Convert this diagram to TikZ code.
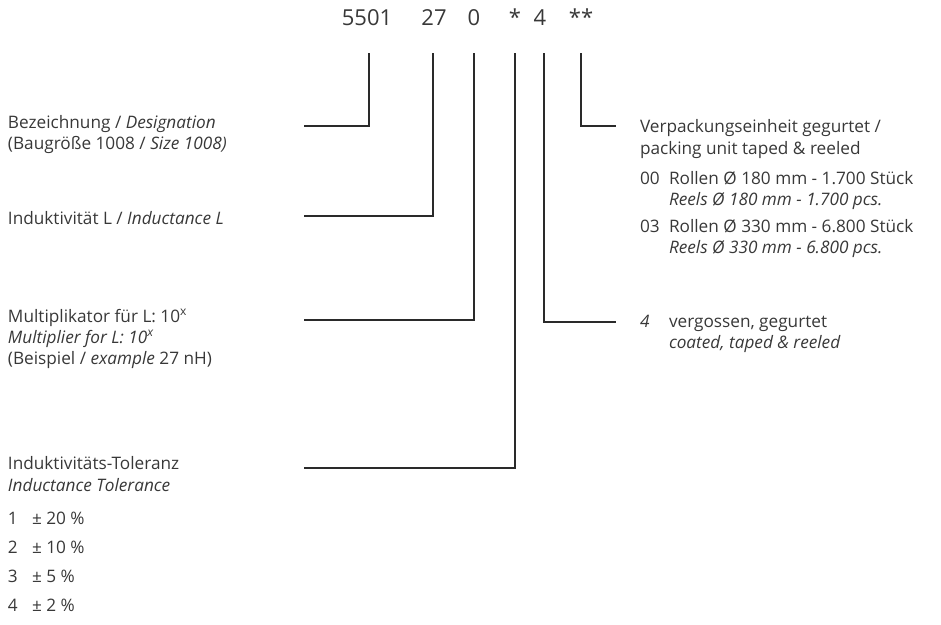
\documentclass[tikz,border=0pt]{standalone}
\usepackage{fontspec}
\setmainfont{Open Sans}
\definecolor{ink}{HTML}{383838}
\definecolor{wire}{HTML}{2A2A2A}
\begin{document}
\begin{tikzpicture}[x=1pt,y=-1pt,
  every node/.style={inner sep=0pt, outer sep=0pt, text=ink},
  lbl/.style={anchor=base west, font=\fontsize{17.2}{21}\selectfont},
  code/.style={anchor=base, font=\fontsize{22}{26}\selectfont},
  conn/.style={draw=wire, line width=2pt, line join=miter}]
\useasboundingbox (0,0) rectangle (941,624);

% code digits
\node[code] (c1) at (367,25) {5501};
\node[code] (c2) at (434,25) {27};
\node[code] (c3) at (474,25) {0};
\node[code] (c4) at (515,25) {*};
\node[code] (c5) at (540,25) {4};
\node[code] (c6) at (581,25) {**};

% left labels
\node[lbl] (bez1) at (8,128) {Bezeichnung / \textit{Designation}};
\node[lbl] (bez2) at (8,149) {(Baugröße 1008 / \textit{Size 1008)}};
\node[lbl] (ind)  at (8,224) {Induktivität L / \textit{Inductance L}};
\node[lbl] (mul1) at (8,322) {Multiplikator für L: 10\textsuperscript{x}};
\node[lbl] (mul2) at (8,343) {\textit{Multiplier for L: 10\textsuperscript{x}}};
\node[lbl] (mul3) at (8,364) {(Beispiel / \textit{example} 27 nH)};
\node[lbl] (tol1) at (8,469) {Induktivitäts-Toleranz};
\node[lbl] (tol2) at (8,491) {\textit{Inductance Tolerance}};
\node[lbl] (k1) at (8,524) {1};
\node[lbl] (t1) at (32,524) {± 20 \%};
\node[lbl] (k2) at (8,553) {2};
\node[lbl] (t2) at (32,553) {± 10 \%};
\node[lbl] (k3) at (8,582) {3};
\node[lbl] (t3) at (32,582) {± 5 \%};
\node[lbl] (k4) at (8,611) {4};
\node[lbl] (t4) at (32,611) {± 2 \%};

% right labels
\node[lbl] (ver1) at (640,132) {Verpackungseinheit gegurtet /};
\node[lbl] (ver2) at (640,154) {packing unit taped \& reeled};
\node[lbl] (p0) at (640,184) {00};
\node[lbl] (p0a) at (669,184) {Rollen Ø 180 mm - 1.700 Stück};
\node[lbl] (p0b) at (669,205) {\textit{Reels Ø 180 mm - 1.700 pcs.}};
\node[lbl] (p3) at (640,232) {03};
\node[lbl] (p3a) at (669,232) {Rollen Ø 330 mm - 6.800 Stück};
\node[lbl] (p3b) at (669,253) {\textit{Reels Ø 330 mm - 6.800 pcs.}};
\node[lbl] (f4) at (640,327) {\textit{4}};
\node[lbl] (f4a) at (669,327) {vergossen, gegurtet};
\node[lbl] (f4b) at (669,348) {\textit{coated, taped \& reeled}};

% connector coordinates
\coordinate (v1) at (369,53); \coordinate (h1) at (304,126);
\coordinate (v2) at (433,53); \coordinate (h2) at (304,216);
\coordinate (v3) at (474,53); \coordinate (h3) at (304,320);
\coordinate (v4) at (515,53); \coordinate (h4) at (304,468);
\coordinate (v5) at (544,53); \coordinate (h5) at (616,322);
\coordinate (v6) at (581,53); \coordinate (h6) at (616,126);

\draw[conn] (v1) |- (h1);
\draw[conn] (v2) |- (h2);
\draw[conn] (v3) |- (h3);
\draw[conn] (v4) |- (h4);
\draw[conn] (v5) |- (h5);
\draw[conn] (v6) |- (h6);
\end{tikzpicture}
\end{document}
